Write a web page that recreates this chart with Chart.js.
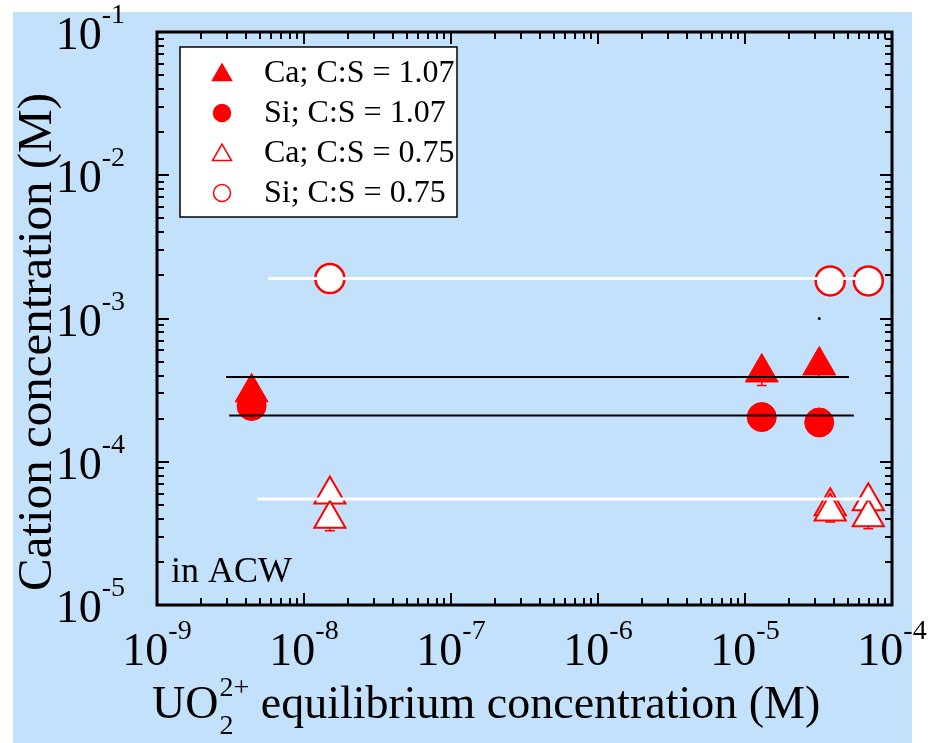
<!DOCTYPE html>
<html>
<head>
<meta charset="utf-8">
<script src="https://cdn.jsdelivr.net/npm/chart.js@4/dist/chart.umd.min.js"></script>
<style>
	html, body { margin: 0; padding: 0; background: #ffffff; }
	#grafico { display: block; }
</style>
</head>
<body>
<canvas id="grafico" width="933" height="743"></canvas>
<script>
// tick decades (exponents of 10)
var xTickExp = [-9, -8, -7, -6, -5, -4];
var yTickExp = [-5, -4, -3, -2, -1];

// Ca, C:S = 1.07
var ca107X = [4.4e-9, 1.3e-5, 3.2e-5];
var ca107Y = [3.05e-4, 4.2e-4, 4.7e-4];
var ca107Err = [0.5e-4, 0.8e-4, 0.8e-4];

// Si, C:S = 1.07
var si107X = [4.4e-9, 1.3e-5, 3.2e-5];
var si107Y = [2.45e-4, 2.05e-4, 1.88e-4];
var si107Err = [0.4e-4, 0.35e-4, 0.35e-4];

// Ca, C:S = 0.75
var ca075X = [1.5e-8, 1.5e-8, 3.8e-5, 3.8e-5, 6.9e-5, 6.9e-5];
var ca075Y = [5.9e-5, 4.0e-5, 4.9e-5, 4.5e-5, 5.3e-5, 4.1e-5];
var ca075Err = [0.7e-5, 0.7e-5, 0.7e-5, 0.7e-5, 0.7e-5, 0.7e-5];

// Si, C:S = 0.75
var si075X = [1.5e-8, 3.8e-5, 6.9e-5];
var si075Y = [1.9e-3, 1.83e-3, 1.83e-3];
var si075Err = [0.3e-3, 0.3e-3, 0.3e-3];

// horizontal guide lines
var whiteTopX = [5.7e-9, 7.0e-5];
var whiteTopY = [1.9e-3, 1.9e-3];
var blackTopX = [2.95e-9, 5.1e-5];
var blackTopY = [3.9e-4, 3.9e-4];
var blackBotX = [3.1e-9, 5.5e-5];
var blackBotY = [2.1e-4, 2.1e-4];
var whiteBotX = [4.8e-9, 7.5e-5];
var whiteBotY = [5.5e-5, 5.5e-5];

// stray dot in the original
var dotX = [3.2e-5];
var dotY = [1.0e-3];

var legendLabels = ['Ca; C:S = 1.07', 'Si; C:S = 1.07', 'Ca; C:S = 0.75', 'Si; C:S = 0.75'];

var ROSSO = '#ff0000';
var BLU = '#c4e1fb';
var SERIF = '"Liberation Serif", "Times New Roman", serif';

function punti(xs, ys) {
	return xs.map(function (x, i) { return { x: x, y: ys[i] }; });
}

function decadi(minExp, maxExp) {
	var major = [], minor = [];
	for (var e = minExp; e <= maxExp; e++) {
		major.push(Math.pow(10, e));
		if (e < maxExp) {
			for (var m = 2; m <= 9; m++) minor.push(m * Math.pow(10, e));
		}
	}
	return { major: major, minor: minor };
}

var sfondo = {
	id: 'sfondo',
	beforeDraw: function (chart) {
		var ctx = chart.ctx;
		ctx.save();
		ctx.fillStyle = BLU;
		ctx.fillRect(13, 12, 899, 731);
		ctx.restore();
	}
};

// error bars under the markers
var barreErrore = {
	id: 'barreErrore',
	beforeDatasetsDraw: function (chart) {
		var ctx = chart.ctx, xs = chart.scales.x, ys = chart.scales.y;
		ctx.save();
		ctx.strokeStyle = ROSSO;
		ctx.lineWidth = 1.5;
		chart.data.datasets.forEach(function (ds) {
			if (!ds.errY) return;
			ds.data.forEach(function (p, i) {
				var px = xs.getPixelForValue(p.x);
				var y1 = ys.getPixelForValue(p.y - ds.errY[i]);
				var y2 = ys.getPixelForValue(p.y + ds.errY[i]);
				ctx.beginPath();
				ctx.moveTo(px, y1); ctx.lineTo(px, y2);
				ctx.moveTo(px - 5, y1); ctx.lineTo(px + 5, y1);
				ctx.moveTo(px - 5, y2); ctx.lineTo(px + 5, y2);
				ctx.stroke();
			});
		});
		ctx.restore();
	}
};

function disegnaMarker(ctx, stile, pieno, x, y, r) {
	ctx.beginPath();
	if (stile === 'triangle') {
		var a = -Math.PI / 2;
		for (var k = 0; k < 3; k++) {
			var px = x + Math.cos(a) * r, py = y + Math.sin(a) * r;
			if (k === 0) ctx.moveTo(px, py); else ctx.lineTo(px, py);
			a += 2 * Math.PI / 3;
		}
		ctx.closePath();
	} else {
		ctx.arc(x, y, r, 0, 2 * Math.PI);
	}
	ctx.fillStyle = pieno ? ROSSO : '#ffffff';
	ctx.fill();
	ctx.strokeStyle = ROSSO;
	ctx.lineWidth = 1.5;
	ctx.stroke();
}

function testoEsponente(ctx, exp, x, yBase, allinea) {
	ctx.font = '46px ' + SERIF;
	var w10 = ctx.measureText('10').width;
	ctx.font = '28px ' + SERIF;
	var wExp = ctx.measureText(String(exp)).width;
	var start = allinea === 'right' ? x - w10 - wExp : x - (w10 + wExp) / 2;
	ctx.font = '46px ' + SERIF;
	ctx.fillText('10', start, yBase);
	ctx.font = '28px ' + SERIF;
	ctx.fillText(String(exp), start + w10, yBase - 26);
}

var cornice = {
	id: 'cornice',
	afterDraw: function (chart) {
		var ctx = chart.ctx, a = chart.chartArea;
		var xs = chart.scales.x, ys = chart.scales.y;
		ctx.save();
		ctx.fillStyle = '#000000';
		ctx.strokeStyle = '#000000';

		// ticks, inward on all sides
		var dx = decadi(xTickExp[0], xTickExp[xTickExp.length - 1]);
		var dy = decadi(yTickExp[0], yTickExp[yTickExp.length - 1]);
		ctx.lineWidth = 2;
		ctx.beginPath();
		[[dx.major, 12], [dx.minor, 7]].forEach(function (g) {
			g[0].forEach(function (v) {
				var px = Math.round(xs.getPixelForValue(v));
				ctx.moveTo(px, a.bottom); ctx.lineTo(px, a.bottom - g[1]);
				ctx.moveTo(px, a.top); ctx.lineTo(px, a.top + g[1]);
			});
		});
		[[dy.major, 12], [dy.minor, 7]].forEach(function (g) {
			g[0].forEach(function (v) {
				var py = Math.round(ys.getPixelForValue(v));
				ctx.moveTo(a.left, py); ctx.lineTo(a.left + g[1], py);
				ctx.moveTo(a.right, py); ctx.lineTo(a.right - g[1], py);
			});
		});
		ctx.stroke();

		ctx.lineWidth = 3;
		ctx.strokeRect(a.left, a.top, a.right - a.left, a.bottom - a.top);

		// tick labels
		ctx.textBaseline = 'alphabetic';
		ctx.textAlign = 'left';
		xTickExp.forEach(function (e) {
			testoEsponente(ctx, e, xs.getPixelForValue(Math.pow(10, e)), a.bottom + 60, 'center');
		});
		yTickExp.forEach(function (e) {
			testoEsponente(ctx, e, a.left - 32, ys.getPixelForValue(Math.pow(10, e)) + 17, 'right');
		});

		// x axis title
		var tx = 152, ty = 718;
		ctx.font = '46px ' + SERIF;
		ctx.fillText('UO', tx, ty);
		tx += ctx.measureText('UO').width + 1;
		ctx.font = '28px ' + SERIF;
		ctx.fillText('2', tx, ty + 16);
		ctx.fillText('2+', tx, ty - 22);
		tx += ctx.measureText('2+').width;
		ctx.font = '46px ' + SERIF;
		ctx.fillText(' equilibrium concentration (M)', tx, ty);

		// y axis title
		ctx.save();
		ctx.translate(51, 342);
		ctx.rotate(-Math.PI / 2);
		ctx.font = '49px ' + SERIF;
		ctx.textAlign = 'center';
		ctx.fillText('Cation concentration (M)', 0, 0);
		ctx.restore();

		// annotation
		ctx.font = '36px ' + SERIF;
		ctx.fillText('in ACW', a.left + 14, a.bottom - 23);

		// legend
		var lx = a.left + 23, ly = a.top + 15, lw = 277, lh = 170;
		ctx.fillStyle = '#ffffff';
		ctx.fillRect(lx, ly, lw, lh);
		ctx.lineWidth = 1.5;
		ctx.strokeRect(lx, ly, lw, lh);
		var voci = chart.data.datasets.filter(function (d) { return d.label; });
		voci.forEach(function (d, i) {
			var ry = ly + 26 + i * 40;
			var r = d.pointStyle === 'triangle' ? 11 : 8.5;
			disegnaMarker(ctx, d.pointStyle, d.backgroundColor === ROSSO, lx + 42, ry + (d.pointStyle === 'triangle' ? 2 : 0), r);
			ctx.fillStyle = '#000000';
			ctx.font = '32px ' + SERIF;
			ctx.textBaseline = 'middle';
			ctx.fillText(d.label, lx + 84, ry + 1);
		});
		ctx.restore();
	}
};

var linea = function (xs, ys, colore, spessore) {
	return {
		data: punti(xs, ys), showLine: true, pointRadius: 0,
		borderColor: colore, borderWidth: spessore, order: 0
	};
};

var config = {
	type: 'scatter',
	data: {
		datasets: [
			{ label: legendLabels[0], data: punti(ca107X, ca107Y), errY: ca107Err, pointStyle: 'triangle',
				pointRadius: 19, backgroundColor: ROSSO, borderColor: ROSSO, borderWidth: 1, order: 1 },
			{ label: legendLabels[1], data: punti(si107X, si107Y), errY: si107Err, pointStyle: 'circle',
				pointRadius: 14.5, backgroundColor: ROSSO, borderColor: ROSSO, borderWidth: 1, order: 1 },
			{ label: legendLabels[2], data: punti(ca075X, ca075Y), errY: ca075Err, pointStyle: 'triangle',
				pointRadius: 18, backgroundColor: '#ffffff', borderColor: ROSSO, borderWidth: 2, order: 1 },
			{ label: legendLabels[3], data: punti(si075X, si075Y), errY: si075Err, pointStyle: 'circle',
				pointRadius: 14.5, backgroundColor: '#ffffff', borderColor: ROSSO, borderWidth: 2.5, order: 1 },
			linea(whiteTopX, whiteTopY, '#ffffff', 3),
			linea(blackTopX, blackTopY, '#000000', 2),
			linea(blackBotX, blackBotY, '#000000', 2),
			linea(whiteBotX, whiteBotY, '#ffffff', 3),
			{ data: punti(dotX, dotY), pointRadius: 1.5, backgroundColor: '#000000', borderWidth: 0, order: 0 }
		]
	},
	options: {
		responsive: false,
		animation: false,
		devicePixelRatio: 1,
		layout: { padding: { left: 157, right: 41, top: 32, bottom: 138 } },
		plugins: { legend: { display: false }, tooltip: { enabled: false } },
		scales: {
			x: { type: 'logarithmic', min: 1e-9, max: 1e-4, display: false },
			y: { type: 'logarithmic', min: 1e-5, max: 1e-1, display: false }
		}
	},
	plugins: [sfondo, barreErrore, cornice]
};

var grafico = new Chart(document.getElementById('grafico').getContext('2d'), config);
</script>
</body>
</html>
